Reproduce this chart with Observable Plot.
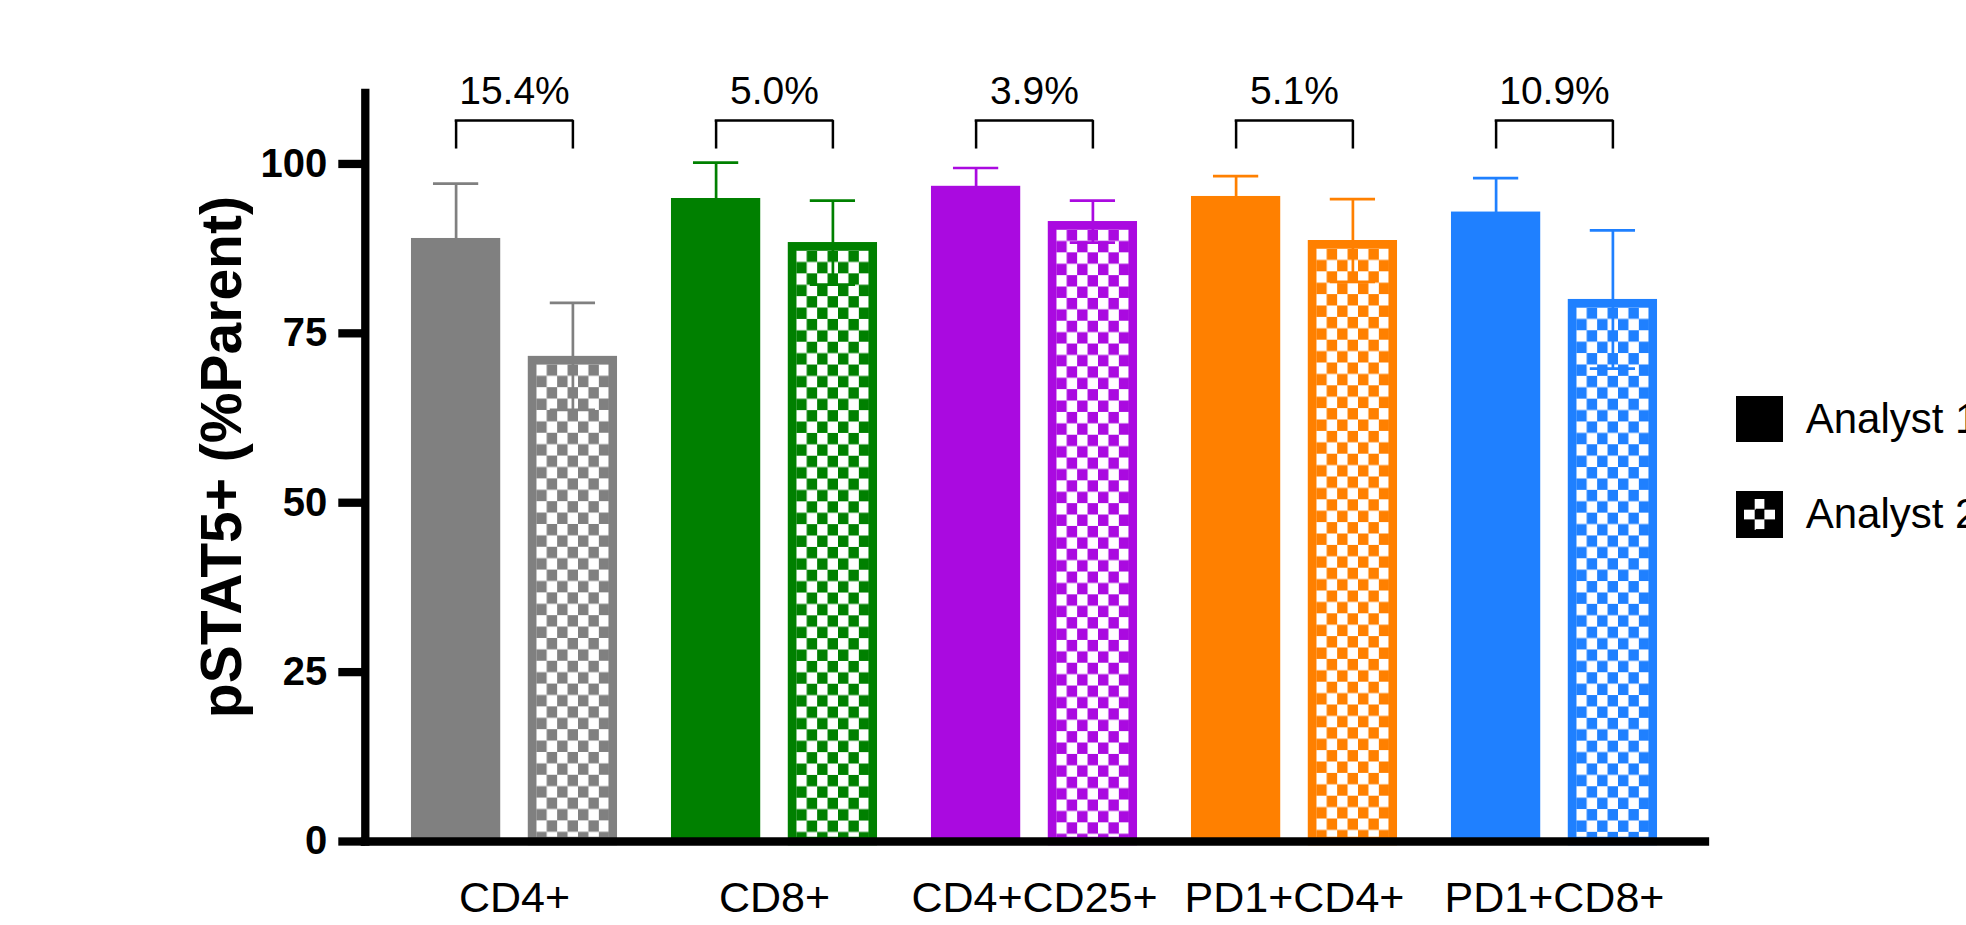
<!DOCTYPE html>
<html>
<head>
<meta charset="utf-8">
<script src="https://cdn.jsdelivr.net/npm/d3@7"></script>
<script src="https://cdn.jsdelivr.net/npm/@observablehq/plot@0.6"></script>
<style>
  html, body { margin: 0; padding: 0; background: #fff; }
  #wrap { position: relative; width: 1966px; height: 925px; overflow: hidden; }
  #legend { position: absolute; left: 1736px; top: 395.7px; font-family: "Liberation Sans", Arial, sans-serif; font-size: 42px; color: #000; }
  .row { display: flex; align-items: center; height: 46.7px; margin-bottom: 48.6px; white-space: nowrap; }
  .sw { width: 46.7px; height: 46.7px; box-sizing: border-box; margin-right: 23px; flex: none; }
  .sw.solid { background: #000; }
  .sw.check { border: 8px solid #000;
    background-color: #fff;
    background-image: conic-gradient(#fff 0 25%, #000 0 50%, #fff 0 75%, #000 0);
    background-size: 20.4px 20.4px; background-position: 0 0; }
</style>
</head>
<body>
<div id="wrap"></div>
<script>
// ---- data ----
const cells = ["CD4+", "CD8+", "CD4+CD25+", "PD1+CD4+", "PD1+CD8+"];
const cellColors = ["#808080", "#008000", "#AA0AE0", "#FF8000", "#1F80FF"];
const analysts = ["Analyst 1", "Analyst 2"];
const analyst1Mean = [89.0, 94.9, 96.7, 95.2, 92.9];
const analyst1SD   = [8.1, 5.3, 2.7, 3.0, 5.0];
const analyst2Mean = [71.6, 88.4, 91.5, 88.7, 80.0];
const analyst2SD   = [7.9, 6.2, 3.1, 6.1, 10.2];
const diffLabels = ["15.4%", "5.0%", "3.9%", "5.1%", "10.9%"];
const yTicks = [0, 25, 50, 75, 100];
const yTitle = "pSTAT5+ (%Parent)";
const bracketTop = 106.4;   // y value of bracket bar
const bracketLeg = 102.2;   // y value of bracket leg ends
const labelBase = 108.9;    // y value of label baseline

// ---- layout constants (px) ----
const FONT = "Liberation Sans, Arial, Helvetica, sans-serif";
const step = 260.75;            // band width (paddingInner 0)
const off = 58.4;               // half distance between paired bar centres
const barW = 90;
const barInset = (step - barW) / 2;
const capW = 46;
const capInset = (step - capW) / 2;
const sw = 8.5;                 // checker bar border

const rows = cells.flatMap((c, i) => [
  {cell: c, analyst: analysts[0], mean: analyst1Mean[i], sd: analyst1SD[i], color: cellColors[i], i},
  {cell: c, analyst: analysts[1], mean: analyst2Mean[i], sd: analyst2SD[i], color: cellColors[i], i}
]);
const a1 = rows.filter(d => d.analyst === analysts[0]);
const a2 = rows.filter(d => d.analyst === analysts[1]);
const ann = cells.map((c, i) => ({cell: c, label: diffLabels[i]}));

function errMarks(data, dx) {
  return [
    Plot.ruleX(data, {x: "cell", y1: d => d.mean - d.sd, y2: d => d.mean + d.sd, stroke: "color", strokeWidth: 2.7, dx}),
    Plot.tickY(data, {x: "cell", y: d => d.mean + d.sd, stroke: "color", strokeWidth: 2.7, dx, inset: capInset}),
    Plot.tickY(data, {x: "cell", y: d => d.mean - d.sd, stroke: "color", strokeWidth: 2.7, dx, inset: capInset})
  ];
}

const chart = Plot.plot({
  width: 1966,
  height: 925,
  marginLeft: 364.8,
  marginRight: 261,
  marginTop: 92.3,
  marginBottom: 84,
  style: {background: "#fff", fontFamily: FONT, color: "#000"},
  x: {domain: cells, paddingInner: 0, paddingOuter: 0.07, align: 0.475, axis: null},
  y: {domain: [0, 110.5], axis: null},
  color: {type: "identity"},
  marks: [
    ...errMarks(a1, -off),
    ...errMarks(a2, off),
    Plot.barY(a1, {x: "cell", y: "mean", fill: "color", dx: -off, insetLeft: barInset, insetRight: barInset}),
    Plot.barY(a2, {x: "cell", y: "mean", fill: d => `url(#chk${d.i})`, stroke: "color", strokeWidth: sw,
      dx: off, insetLeft: barInset + sw / 2, insetRight: barInset + sw / 2, insetTop: sw / 2, insetBottom: 0}),
    // brackets
    Plot.tickY(ann, {x: "cell", y: bracketTop, stroke: "#000", strokeWidth: 2.5, inset: step / 2 - off, strokeLinecap: "square"}),
    Plot.ruleX(ann, {x: "cell", y1: bracketLeg, y2: bracketTop, stroke: "#000", strokeWidth: 2.5, dx: -off}),
    Plot.ruleX(ann, {x: "cell", y1: bracketLeg, y2: bracketTop, stroke: "#000", strokeWidth: 2.5, dx: off}),
    Plot.text(ann, {x: "cell", y: labelBase, text: "label", lineAnchor: "bottom", fontSize: 39, fontFamily: FONT, fill: "#000"}),
    // axes
    Plot.axisY({ticks: yTicks, tickSize: 26.5, tickPadding: 11.6, strokeWidth: 8.3, fontSize: 40, fontWeight: "bold", fontFamily: FONT, label: null}),
    Plot.axisX({tickSize: 0, tickPadding: 40, fontSize: 43, fontFamily: FONT, label: null}),
    Plot.frame({anchor: "left", stroke: "#000", strokeWidth: 8.3}),
    Plot.ruleY([0], {stroke: "#000", strokeWidth: 8.3, strokeLinecap: "square"}),
    Plot.text([yTitle], {frameAnchor: "left", text: d => d, rotate: -90, dx: -124, dy: -10, textAnchor: "middle", lineAnchor: "bottom",
      fontSize: 57, fontWeight: "bold", fontFamily: FONT, fill: "#000"})
  ]
});

document.getElementById("wrap").appendChild(chart);

// checker patterns aligned to each checkered bar's inner corner
const svg = chart.tagName.toLowerCase() === "svg" ? chart : chart.querySelector("svg");
const defs = d3.select(svg).insert("defs", ":first-child");
const barGroups = svg.querySelectorAll('g[aria-label="bar"]');
const chkRects = barGroups[barGroups.length - 1].querySelectorAll("rect");
const cw = 10.43, ch = 11.4;
a2.forEach((d, k) => {
  const r = chkRects[k];
  const px = +r.getAttribute("x") + sw / 2;
  const py = +r.getAttribute("y") + sw / 2;
  const p = defs.append("pattern").attr("id", `chk${d.i}`).attr("patternUnits", "userSpaceOnUse")
    .attr("x", px).attr("y", py).attr("width", 2 * cw).attr("height", 2 * ch);
  p.append("rect").attr("x", cw).attr("y", 0).attr("width", cw).attr("height", ch).attr("fill", d.color);
  p.append("rect").attr("x", 0).attr("y", ch).attr("width", cw).attr("height", ch).attr("fill", d.color);
});

// legend
const legend = document.createElement("div");
legend.id = "legend";
legend.innerHTML = analysts.map((a, k) =>
  `<div class="row"><div class="sw ${k === 0 ? "solid" : "check"}"></div><span>${a}</span></div>`).join("");
document.getElementById("wrap").appendChild(legend);
</script>
</body>
</html>
